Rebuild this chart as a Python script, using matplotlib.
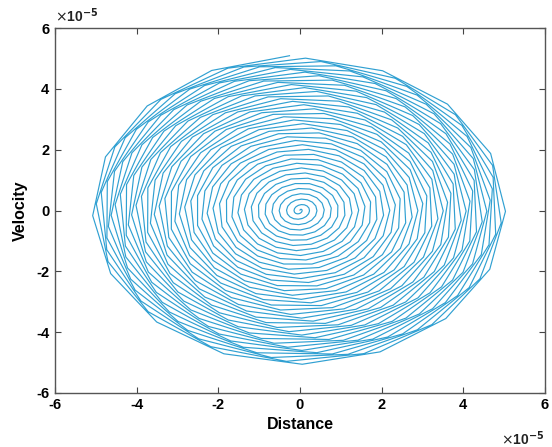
import matplotlib
matplotlib.use("Agg")
import matplotlib.pyplot as plt
import numpy as np
from matplotlib.ticker import FuncFormatter

# phase-plane response of a lightly damped oscillator driven at resonance,
# starting from rest: the amplitude builds up towards its steady value
final_amplitude = 5.1e-5      # envelope reached at the end of the run
n_cycles = 39                 # number of oscillation cycles in the run
build_up_cycles = 49          # time constant of the amplitude build-up
samples_per_cycle = 16.2      # solver output points per cycle
end_phase = -0.05             # phase (rad) at the last output point

tick_values = [-6, -4, -2, 0, 2, 4, 6]
scale = 1e-5

dt = 2 * np.pi / samples_per_cycle
t_end = 2 * np.pi * n_cycles + end_phase
t = np.arange(0, t_end + dt / 2, dt)
t = t - t[-1] + t_end
t = t[t >= 0]

tau = 2 * np.pi * build_up_cycles
amp = final_amplitude / (1 - np.exp(-t_end / tau))
env = amp * (1 - np.exp(-t / tau))
denv = amp / tau * np.exp(-t / tau)

distance = env * np.sin(t)
velocity = env * np.cos(t) + denv * np.sin(t)

plt.rcParams['font.family'] = ['Liberation Sans', 'DejaVu Sans']

fig = plt.figure(figsize=(5.52, 4.47), dpi=100)
ax = fig.add_axes([0.0996, 0.121, 0.8874, 0.816])

ax.plot(distance, velocity, color='#30a0d2', linewidth=0.85)

ax.set_xlim(-6 * scale, 6 * scale)
ax.set_ylim(-6 * scale, 6 * scale)
ax.set_xticks([v * scale for v in tick_values])
ax.set_yticks([v * scale for v in tick_values])
fmt = FuncFormatter(lambda v, pos: '%d' % round(v / scale))
ax.xaxis.set_major_formatter(fmt)
ax.yaxis.set_major_formatter(fmt)

ax.tick_params(direction='in', length=4, width=0.8, color='#444444',
               top=True, right=True, labelsize=10.5, pad=4)
for lab in ax.get_xticklabels() + ax.get_yticklabels():
    lab.set_fontweight('bold')
for sp in ax.spines.values():
    sp.set_color('#555555')
    sp.set_linewidth(1.0)

ax.set_xlabel('Distance', fontsize=11.5, fontweight='bold', labelpad=3)
ax.set_ylabel('Velocity', fontsize=11.5, fontweight='bold', labelpad=6)

ax.text(0.0, 1.01, r'$\times$10$^{\mathbf{-5}}$', transform=ax.transAxes,
        fontsize=10, fontweight='bold', color='#222222', ha='left', va='bottom')
ax.text(1.0, -0.1, r'$\times$10$^{\mathbf{-5}}$', transform=ax.transAxes,
        fontsize=10, fontweight='bold', color='#222222', ha='right', va='top')

fig.savefig('out.png', dpi=100)
